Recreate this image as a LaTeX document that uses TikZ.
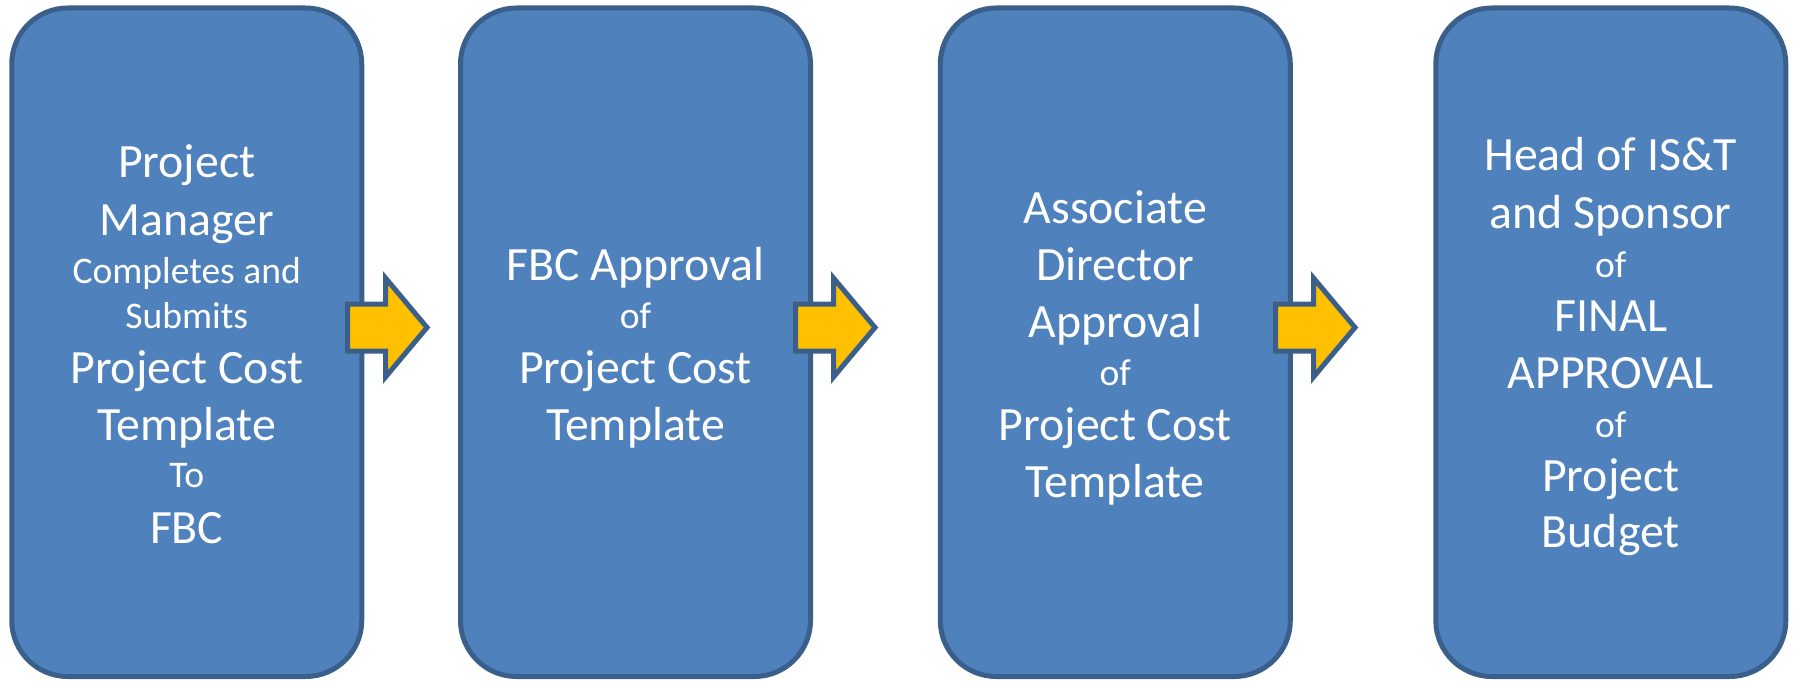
\documentclass[tikz,border=0pt]{standalone}
\usepackage{fontspec}
\setmainfont{Carlito}
\definecolor{boxfill}{HTML}{4F81BD}
\definecolor{boxline}{HTML}{3A5F8B}
\definecolor{arrowfill}{HTML}{FFC000}
\begin{document}
\begin{tikzpicture}[x=1pt,y=-1pt,
  stepbox/.style={rectangle, draw=boxline, fill=boxfill, line width=5pt,
    rounded corners=56pt, minimum width=350pt, minimum height=668.5pt, inner sep=0pt},
  big/.style={anchor=base, text=white, font=\fontsize{47.8}{57}\selectfont, inner sep=0pt},
  small/.style={anchor=base, text=white, font=\fontsize{37.6}{45}\selectfont, inner sep=0pt},
  blockarrow/.style={draw=boxline, fill=arrowfill, line width=5pt, line join=miter}]
\useasboundingbox (0,0) rectangle (1794,682);

% boxes
\node[stepbox] (b1) at (186.75,342.25) {};
\node[stepbox] (b2) at (635.5,342.25) {};
\node[stepbox] (b3) at (1115.3,342.25) {};
\node[stepbox] (b4) at (1610.8,342.25) {};

% block arrows
\coordinate (a1) at (347.5,327.5);
\coordinate (a2) at (795.5,327.5);
\coordinate (a3) at (1275.5,327.5);
\foreach \a in {a1,a2,a3}{
  \draw[blockarrow] (\a) ++(0,-23.5) -- ++(38,0) -- ++(0,-26) -- ++(41.5,49.5)
    -- ++(-41.5,49.5) -- ++(0,-26) -- ++(-38,0) -- cycle;
}

% box 1 text
\node[big]   (t1a) at (186.75,178) {Project};
\node[big]   (t1b) at (186.75,235) {Manager};
\node[small] (t1c) at (186.75,283) {Completes and};
\node[small] (t1d) at (186.75,328) {Submits};
\node[big]   (t1e) at (186.75,383) {Project Cost};
\node[big]   (t1f) at (186.75,440) {Template};
\node[small] (t1g) at (186.75,487) {To};
\node[big]   (t1h) at (186.75,543) {FBC};

% box 2 text
\node[big]   (t2a) at (635.5,280) {FBC Approval};
\node[small] (t2b) at (635.5,328) {of};
\node[big]   (t2c) at (635.5,383) {Project Cost};
\node[big]   (t2d) at (635.5,440) {Template};

% box 3 text
\node[big]   (t3a) at (1115.3,223) {Associate};
\node[big]   (t3b) at (1115.3,280) {Director};
\node[big]   (t3c) at (1115.3,337) {Approval};
\node[small] (t3d) at (1115.3,385) {of};
\node[big]   (t3e) at (1115.3,440) {Project Cost};
\node[big]   (t3f) at (1115.3,497) {Template};

% box 4 text
\node[big]   (t4a) at (1610.8,171) {Head of IS\&T};
\node[big]   (t4b) at (1610.8,228) {and Sponsor};
\node[small] (t4c) at (1610.8,277) {of};
\node[big]   (t4d) at (1610.8,331) {FINAL};
\node[big]   (t4e) at (1610.8,388) {APPROVAL};
\node[small] (t4f) at (1610.8,437) {of};
\node[big]   (t4g) at (1610.8,491) {Project};
\node[big]   (t4h) at (1610.8,547) {Budget};
\end{tikzpicture}
\end{document}
